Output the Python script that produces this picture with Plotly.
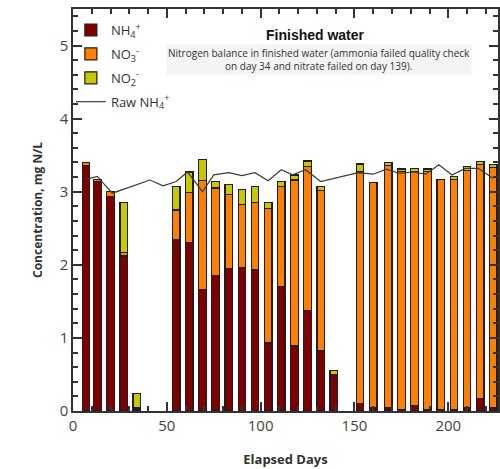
import plotly.graph_objects as go

# Weekly sampling days of the finished water
days = [7, 13, 20, 27, 34, 55, 62, 69, 76, 83, 90, 97, 104, 111, 118, 125, 132,
        139, 153, 160, 168, 175, 182, 189, 196, 203, 210, 217, 224]

# Nitrogen species in finished water, mg N/L
nh4 = [3.36, 3.14, 2.93, 2.12, 0.02, 2.34, 2.31, 1.66, 1.85, 1.95, 1.96, 1.93, 0.93,
       1.70, 0.89, 1.38, 0.82, 0.50, 0.10, 0.04, 0.04, 0.02, 0.07, 0.02, 0.02, 0.02,
       0.04, 0.17, 0.04]
no3 = [0.04, 0.03, 0.07, 0.05, 0.02, 0.41, 0.68, 1.49, 1.20, 1.01, 0.87, 0.92, 1.84,
       1.37, 2.27, 1.96, 2.20, None, 3.17, 3.09, 3.32, 3.26, 3.21, 3.26, 3.15, 3.15,
       3.25, 3.20, 3.29]
no2 = [None, None, None, 0.68, 0.20, 0.32, 0.28, 0.29, 0.09, 0.14, 0.20, 0.22, 0.08,
       0.07, 0.07, 0.08, 0.05, 0.05, 0.11, None, 0.04, 0.03, 0.04, 0.03, None, 0.04,
       0.05, 0.04, 0.04]

# Raw water ammonia
raw_days = [7, 13, 16, 21, 41, 48, 55, 61, 69, 75, 83, 90, 97, 104, 111, 117, 124,
            132, 152, 160, 167, 174, 181, 188, 195, 202, 209, 216, 224]
raw_nh4 = [3.17, 3.21, 3.12, 2.98, 3.16, 3.08, 3.14, 3.27, 3.00, 3.23, 3.26, 3.22,
           3.26, 3.15, 3.30, 3.23, 3.30, 3.14, 3.26, 3.24, 3.31, 3.25, 3.27, 3.24,
           3.37, 3.23, 3.32, 3.32, 3.18]

edge = dict(color="#1e1e1e", width=1.2)
fig = go.Figure()
fig.add_bar(x=days, y=nh4, width=4, name="NH<sub>4</sub><sup>+</sup>", legendgroup="a",
            marker=dict(color="#7f0000", line=edge))
fig.add_bar(x=days, y=no3, width=4, name="NO<sub>3</sub><sup>-</sup>", legendgroup="b",
            marker=dict(color="#ff8000", line=edge))
fig.add_bar(x=days, y=no2, width=4, name="NO<sub>2</sub><sup>-</sup>", legendgroup="c",
            marker=dict(color="#c8c800", line=edge))
fig.add_scatter(x=raw_days, y=raw_nh4, mode="lines", name="Raw NH<sub>4</sub><sup>+</sup>",
                legendgroup="d", line=dict(color="#3a3a3a", width=1.2))

axis_col = "#333333"
fig.update_layout(
    width=500, height=469,
    margin=dict(l=73, r=0, t=9, b=58),
    barmode="stack",
    paper_bgcolor="white", plot_bgcolor="white",
    font=dict(family="Open Sans", color="#333333"),
    legend=dict(x=-0.005, y=0.985, xanchor="left", yanchor="top", traceorder="grouped",
                bgcolor="rgba(0,0,0,0)", font=dict(size=13, family="Open Sans"),
                tracegroupgap=4),
    xaxis=dict(range=[0, 226.5], dtick=50, tick0=0, ticks="inside", ticklen=9,
               tickwidth=1.5, tickcolor=axis_col, showline=True, linewidth=1.5,
               linecolor=axis_col, mirror="ticks", showgrid=False, zeroline=False,
               tickfont=dict(size=15, family="Open Sans", color="#444444"),
               minor=dict(dtick=10, ticks="inside", ticklen=5, tickwidth=1.5,
                          tickcolor=axis_col, showgrid=False),
               title=dict(text="<b>Elapsed Days</b>", standoff=21,
                          font=dict(size=13, family="Open Sans", color="#333333"))),
    yaxis=dict(range=[0, 5.5], dtick=1, tick0=0, ticks="inside", ticklen=9,
               tickwidth=1.5, tickcolor=axis_col, showline=True, linewidth=1.5,
               linecolor=axis_col, mirror="ticks", showgrid=False, zeroline=False,
               tickfont=dict(size=15, family="Open Sans", color="#444444"),
               minor=dict(dtick=0.2, ticks="inside", ticklen=5, tickwidth=1.5,
                          tickcolor=axis_col, showgrid=False),
               title=dict(text="<b>Concentration, mg N/L</b>", standoff=14,
                          font=dict(size=12, family="Open Sans", color="#333333"))),
)

fig.add_annotation(xref="x", yref="paper", x=129.5, y=0.935, yanchor="middle",
                   showarrow=False, text="<b>Finished water</b>",
                   font=dict(size=14, family="Liberation Sans", color="#111111"))
fig.add_annotation(xref="x", yref="paper", x=131, y=0.874, yanchor="middle",
                   showarrow=False,
                   text="Nitrogen balance in finished water (ammonia failed quality check<br>"
                        "on day 34 and nitrate failed on day 139).",
                   align="center", bgcolor="#f4f4f4",
                   font=dict(size=10, family="Open Sans", color="#333333"))

fig.write_html("out.html")
